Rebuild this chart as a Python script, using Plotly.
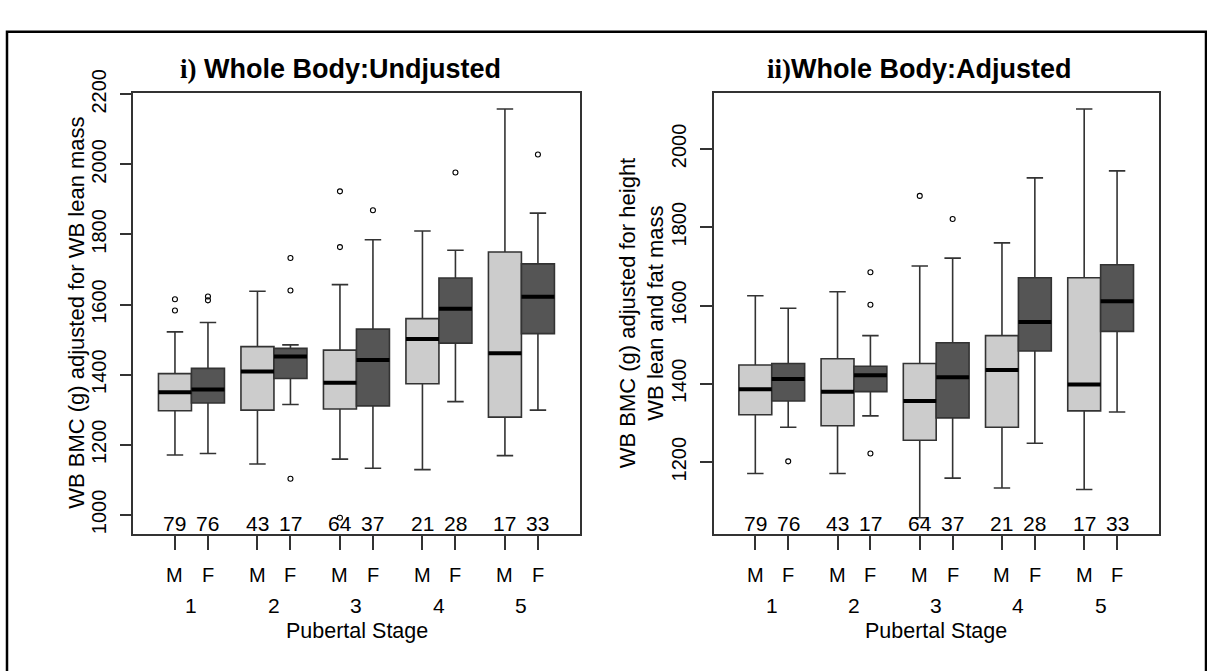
import plotly.graph_objects as go

W, H = 1207, 671

stages = [1, 2, 3, 4, 5]
stage_labels = ["1", "2", "3", "4", "5"]
sex_labels = ["M", "F"]
n_male = [79, 43, 64, 21, 17]
n_female = [76, 17, 37, 28, 33]

# Panel i) Whole Body: Unadjusted
u_m_q1 = [1297, 1299, 1302, 1374, 1279]
u_m_med = [1350, 1409, 1377, 1502, 1461]
u_m_q3 = [1403, 1480, 1470, 1560, 1750]
u_m_lo = [1171, 1145, 1159, 1129, 1169]
u_m_hi = [1522, 1638, 1657, 1810, 2158]
u_f_q1 = [1319, 1389, 1311, 1490, 1517]
u_f_med = [1358, 1452, 1442, 1588, 1622]
u_f_q3 = [1418, 1475, 1530, 1676, 1716]
u_f_lo = [1175, 1315, 1133, 1323, 1299]
u_f_hi = [1549, 1485, 1785, 1755, 1861]
u_m_out_stage = [1, 1, 3, 3, 3]
u_m_out_val = [1615, 1583, 1923, 1764, 992]
u_f_out_stage = [1, 1, 2, 2, 2, 3, 4, 5]
u_f_out_val = [1623, 1612, 1733, 1640, 1103, 1869, 1977, 2028]

# Panel ii) Whole Body: Adjusted
a_m_q1 = [1321, 1293, 1256, 1289, 1331]
a_m_med = [1386, 1380, 1356, 1435, 1398]
a_m_q3 = [1448, 1464, 1452, 1523, 1671]
a_m_lo = [1171, 1171, 1058, 1134, 1130]
a_m_hi = [1625, 1635, 1701, 1760, 2102]
a_f_q1 = [1356, 1380, 1313, 1484, 1534]
a_f_med = [1412, 1422, 1417, 1558, 1611]
a_f_q3 = [1452, 1445, 1505, 1671, 1704]
a_f_lo = [1289, 1318, 1159, 1248, 1328]
a_f_hi = [1593, 1523, 1721, 1926, 1944]
a_m_out_stage = [3]
a_m_out_val = [1880]
a_f_out_stage = [1, 2, 2, 2, 3]
a_f_out_val = [1202, 1685, 1602, 1222, 1821]

u_ticks = [1000, 1200, 1400, 1600, 1800, 2000, 2200]
a_ticks = [1200, 1400, 1600, 1800, 2000]

FONT = "Liberation Sans"
SERIF = "Liberation Serif"
LIGHT = "#cccccc"
DARK = "#555555"
EDGE = "#333333"
OFF = 0.2
BW = 0.4

fig = go.Figure()


def add_panel(xa, ya, m, f, m_out, f_out):
    for stats, col, sgn in ((m, LIGHT, -1), (f, DARK, 1)):
        q1, med, q3, lo, hi = stats
        xs = [s + sgn * OFF for s in stages]
        fig.add_trace(go.Box(
            x=xs, q1=q1, median=med, q3=q3, lowerfence=lo, upperfence=hi,
            width=BW, fillcolor=col, line=dict(color=EDGE, width=1.6),
            whiskerwidth=0.5, boxpoints=False, showlegend=False,
            xaxis=xa, yaxis=ya))
        mx, my = [], []
        for x, v in zip(xs, med):
            mx += [x - BW / 2, x + BW / 2, None]
            my += [v, v, None]
        fig.add_trace(go.Scatter(x=mx, y=my, mode="lines",
                                 line=dict(color="black", width=4),
                                 showlegend=False, hoverinfo="skip",
                                 xaxis=xa, yaxis=ya))
    for (st, vals), sgn in ((m_out, -1), (f_out, 1)):
        fig.add_trace(go.Scatter(
            x=[s + sgn * OFF for s in st], y=vals, mode="markers",
            marker=dict(symbol="circle-open", size=5, color="black",
                        line=dict(width=1.1)),
            showlegend=False, xaxis=xa, yaxis=ya))


add_panel("x", "y",
          (u_m_q1, u_m_med, u_m_q3, u_m_lo, u_m_hi),
          (u_f_q1, u_f_med, u_f_q3, u_f_lo, u_f_hi),
          (u_m_out_stage, u_m_out_val), (u_f_out_stage, u_f_out_val))
add_panel("x2", "y2",
          (a_m_q1, a_m_med, a_m_q3, a_m_lo, a_m_hi),
          (a_f_q1, a_f_med, a_f_q3, a_f_lo, a_f_hi),
          (a_m_out_stage, a_m_out_val), (a_f_out_stage, a_f_out_val))

ydom = [1 - 529.3 / H, 1 - 72 / H]
xdom1 = [133.3 / W, 580 / W]
xdom2 = [713.8 / W, 1159 / W]
xrng = [0.295, 5.71]
box_pos = []
for s in stages:
    box_pos += [s - OFF, s + OFF]

line_common = dict(showline=True, linecolor=EDGE, linewidth=1.5, mirror=True,
                   ticks="outside", tickwidth=1.5, tickcolor=EDGE,
                   showgrid=False, zeroline=False)
ytick_font = dict(family=FONT, size=20, color="black")

fig.update_layout(
    width=W, height=H, margin=dict(l=0, r=0, t=0, b=0),
    paper_bgcolor="white", plot_bgcolor="white", boxmode="overlay",
    xaxis=dict(domain=xdom1, range=xrng, tickvals=box_pos,
               showticklabels=False, anchor="y", ticklen=14, **line_common),
    xaxis2=dict(domain=xdom2, range=xrng, tickvals=box_pos,
                showticklabels=False, anchor="y2", ticklen=14, **line_common),
    yaxis=dict(domain=ydom, range=[945, 2205], tickvals=u_ticks,
               tickangle=-90, anchor="x", ticklen=12, ticklabelstandoff=6,
               tickfont=ytick_font, **line_common),
    yaxis2=dict(domain=ydom, range=[1016, 2144], tickvals=a_ticks,
                tickangle=-90, anchor="x2", ticklen=12, ticklabelstandoff=6,
                tickfont=ytick_font, **line_common),
)

ann = []
for xr, yr in (("x", "y"), ("x2", "y2")):
    for s, nm, nf in zip(stages, n_male, n_female):
        for x, n in ((s - OFF, nm), (s + OFF, nf)):
            ann.append(dict(x=x, y=0, xref=xr, yref=yr + " domain", text=str(n),
                            showarrow=False, xanchor="center", yanchor="bottom", yshift=-3,
                            font=dict(family=FONT, size=21, color="black")))
        for x, lab in ((s - OFF, sex_labels[0]), (s + OFF, sex_labels[1])):
            ann.append(dict(x=x, y=1 - 571.7 / H, xref=xr, yref="paper", text=lab,
                            showarrow=False, xanchor="center", yanchor="middle",
                            font=dict(family=FONT, size=20, color="black")))
    for s, lab in zip(stages, stage_labels):
        ann.append(dict(x=s, y=1 - 603 / H, xref=xr, yref="paper", text=lab,
                        showarrow=False, xanchor="center", yanchor="middle",
                        font=dict(family=FONT, size=21, color="black")))
    ann.append(dict(x=0.5, y=1 - 630 / H, xref=xr + " domain", yref="paper",
                    text="Pubertal Stage", showarrow=False,
                    xanchor="center", yanchor="middle",
                    font=dict(family=FONT, size=21.5, color="black")))

ymid = ydom[0] + (ydom[1] - ydom[0]) / 2
ann.append(dict(x=76.5 / W, y=ymid, xref="paper", yref="paper",
                text="WB BMC (g) adjusted for WB lean mass", textangle=-90,
                showarrow=False, xanchor="center", yanchor="middle",
                font=dict(family=FONT, size=22, color="black")))
ann.append(dict(x=642 / W, y=ymid, xref="paper", yref="paper",
                text="WB BMC (g) adjusted for height<br>WB lean and fat mass", textangle=-90,
                showarrow=False, xanchor="center", yanchor="middle",
                font=dict(family=FONT, size=22, color="black")))

ann.append(dict(x=340 / W, y=1 - 48 / H, xref="paper", yref="paper",
                text="<span style='font-family:Liberation Serif'><b>i)</b></span> <b>Whole Body:Undjusted</b>",
                showarrow=False, xanchor="center", yanchor="middle",
                font=dict(family=FONT, size=27, color="black")))
ann.append(dict(x=919 / W, y=1 - 48 / H, xref="paper", yref="paper",
                text="<span style='font-family:Liberation Serif'><b>ii)</b></span><b>Whole Body:Adjusted</b>",
                showarrow=False, xanchor="center", yanchor="middle",
                font=dict(family=FONT, size=27, color="black")))

fig.update_layout(annotations=ann)
fig.add_shape(type="rect", xref="paper", yref="paper",
              x0=7 / W, x1=1206 / W, y0=-0.02, y1=1 - 9 / H,
              line=dict(color="black", width=2.5), fillcolor="rgba(0,0,0,0)")

fig.write_html("out.html", config={"displayModeBar": False},
               post_script="document.body.style.margin='0px';document.body.style.overflow='hidden';")
